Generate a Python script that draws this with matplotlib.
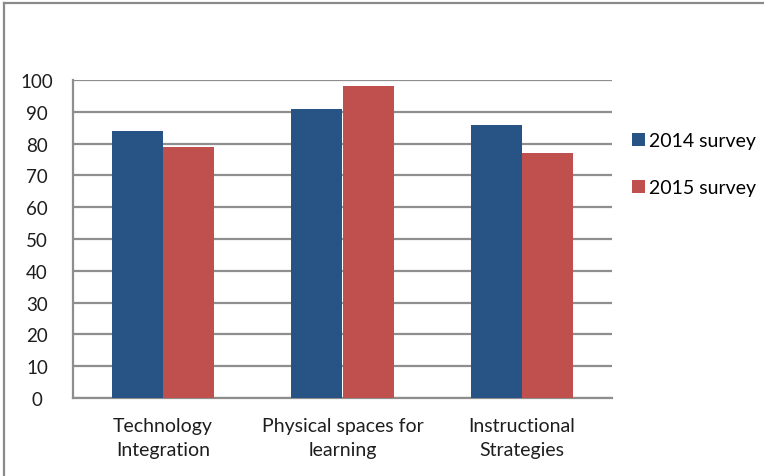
import matplotlib
matplotlib.use("Agg")
import matplotlib.pyplot as plt
import numpy as np
from matplotlib.lines import Line2D

categories = ["Technology\nIntegration", "Physical spaces for\nlearning", "Instructional\nStrategies"]
series_names = ["2014 survey", "2015 survey"]
values_2014 = [84, 91, 86]
values_2015 = [79, 98, 77]
y_ticks = [0, 10, 20, 30, 40, 50, 60, 70, 80, 90, 100]

blue = "#285485"
red = "#C0504D"
grid_color = "#8E8E8E"
text_color = "#1E1E1E"

plt.rcParams["font.family"] = ["Lato", "DejaVu Sans"]

W, H = 764, 477
fig = plt.figure(figsize=(W / 100, H / 100), dpi=100)

# outer frame (left and top edges visible)
fig.add_artist(Line2D([4 / W, 4 / W], [0, 1 - 4 / H], color="#8A8A8A", lw=1.6, transform=fig.transFigure))
fig.add_artist(Line2D([4 / W, 1], [1 - 4 / H, 1 - 4 / H], color="#8A8A8A", lw=1.6, transform=fig.transFigure))

x0, x1 = 73, 612
y0, y1 = 399, 81
ax = fig.add_axes([x0 / W, 1 - y0 / H, (x1 - x0) / W, (y0 - y1) / H])

x = np.arange(len(categories))
bw = 0.284
ax.bar(x - bw / 2, values_2014, width=bw, color=blue, zorder=3, label=series_names[0])
ax.bar(x + bw / 2, values_2015, width=bw, color=red, zorder=3, label=series_names[1])

ax.set_xlim(-0.5, len(categories) - 0.5)
ax.set_ylim(0, 100)
ax.set_yticks(y_ticks)
ax.set_yticklabels([str(t) for t in y_ticks], fontsize=13.5, color=text_color)
ax.set_xticks(x)
ax.set_xticklabels(categories, fontsize=14, color=text_color, linespacing=1.45)
ax.tick_params(axis="both", length=0)
ax.tick_params(axis="x", pad=14)

ax.yaxis.grid(True, color=grid_color, lw=1.6, zorder=0)
ax.set_axisbelow(True)
for s in ["top", "right"]:
    ax.spines[s].set_visible(False)
ax.spines["left"].set_color(grid_color)
ax.spines["left"].set_linewidth(1.6)
ax.spines["bottom"].set_color(grid_color)
ax.spines["bottom"].set_linewidth(1.6)
for lab in ax.get_yticklabels():
    lab.set_horizontalalignment("center")
ax.tick_params(axis="y", pad=26)

leg = ax.legend(loc="upper left", bbox_to_anchor=((632 - x0) / (x1 - x0), 1 - (133 - y1) / (y0 - y1)),
                frameon=False, fontsize=14, handlelength=0.65, handleheight=0.65,
                handletextpad=0.2, labelspacing=1.55, borderpad=0, borderaxespad=0)

fig.savefig("out.png", dpi=100, facecolor="white")
